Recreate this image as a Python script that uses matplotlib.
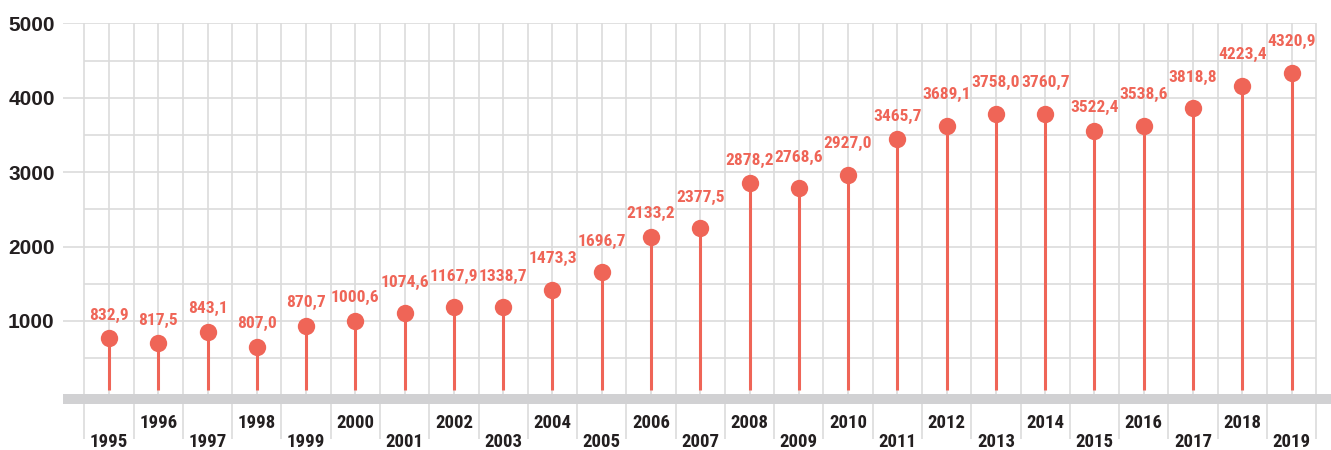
import matplotlib.pyplot as plt
import numpy as np

# data
years = ['1995', '1996', '1997', '1998', '1999', '2000', '2001', '2002', '2003',
         '2004', '2005', '2006', '2007', '2008', '2009', '2010', '2011', '2012',
         '2013', '2014', '2015', '2016', '2017', '2018', '2019']
values = [832.9, 817.5, 843.1, 807.0, 870.7, 1000.6, 1074.6, 1167.9, 1338.7,
          1473.3, 1696.7, 2133.2, 2377.5, 2878.2, 2768.6, 2927.0, 3465.7, 3689.1,
          3758.0, 3760.7, 3522.4, 3538.6, 3818.8, 4223.4, 4320.9]
# heights at which the dots are actually drawn in the original
dot_values = [767, 700, 856, 655, 937, 1004, 1103, 1184, 1184, 1417, 1655, 2133,
              2246, 2855, 2784, 2966, 3442, 3621, 3787, 3787, 3558, 3621, 3858,
              4159, 4333]
yticks = [1000, 2000, 3000, 4000, 5000]

red = '#EF6557'
grid = '#dcdcdc'
dark = '#231f20'
narrow = ['Roboto Condensed', 'DejaVu Sans']

fig = plt.figure(figsize=(13.31, 4.5), dpi=100)
ax = fig.add_axes([63 / 1331, 0, 1268 / 1331, 426.7 / 450])
x = np.arange(len(years))
n = len(years)

ax.set_xlim(-0.933, 24.8)
ax.set_ylim(-734, 5000)

# grid
ax.hlines(yticks, -0.933, n - 0.5, color=grid, lw=1.2, zorder=0)
ax.hlines([500, 1500, 2500, 3500, 4500], -0.5, n - 0.5, color=grid, lw=1.2, zorder=0)
ax.vlines(np.arange(-0.5, n, 0.5), 0, 5000, color=grid, lw=1.2, zorder=0)
ax.vlines(np.arange(-0.5, n, 1.0), -580, 0, color=grid, lw=1.2, zorder=0)

# grey baseline band
ax.fill_between([-0.933, 24.8], -116, 19, color='#d1d1d3', lw=0, zorder=1, clip_on=False)

# lollipops
ax.vlines(x, 70, dot_values, color=red, lw=2.2, zorder=2)
ax.plot(x, dot_values, 'o', color=red, ms=12.5, mec='none', zorder=3)

labels = []
for xi, dv, v in zip(x, dot_values, values):
    t = ax.annotate(f'{v:.1f}'.replace('.', ','), (xi, dv), xytext=(0, 11),
                    textcoords='offset points', ha='center', va='bottom',
                    color=red, fontsize=12.5, fontweight='bold', family=narrow)
    labels.append(t)

# nudge a label up when it runs into its left neighbour
fig.canvas.draw()
r = fig.canvas.get_renderer()
prev = None
for t in labels:
    bb = t.get_window_extent(r)
    if prev is not None and bb.x0 < prev.x1 + 5 and bb.y0 < prev.y1 and bb.y1 > prev.y0:
        t.xyann = (0, 17)
        fig.canvas.draw()
        bb = t.get_window_extent(r)
    prev = bb

# year labels, staggered
for i, yr in enumerate(years):
    yy = -622 if i % 2 == 0 else -367
    ax.text(i, yy, yr, ha='center', va='center', color=dark, fontsize=13.5,
            fontweight='bold', family=narrow, clip_on=False)

ax.set_yticks(yticks)
ax.set_yticklabels([str(t) for t in yticks], fontsize=15, fontweight='bold',
                   color=dark, family='Liberation Sans')
ax.tick_params(axis='y', length=0, pad=6)
ax.set_xticks([])
for s in ax.spines.values():
    s.set_visible(False)

fig.savefig('out.png', dpi=100)
